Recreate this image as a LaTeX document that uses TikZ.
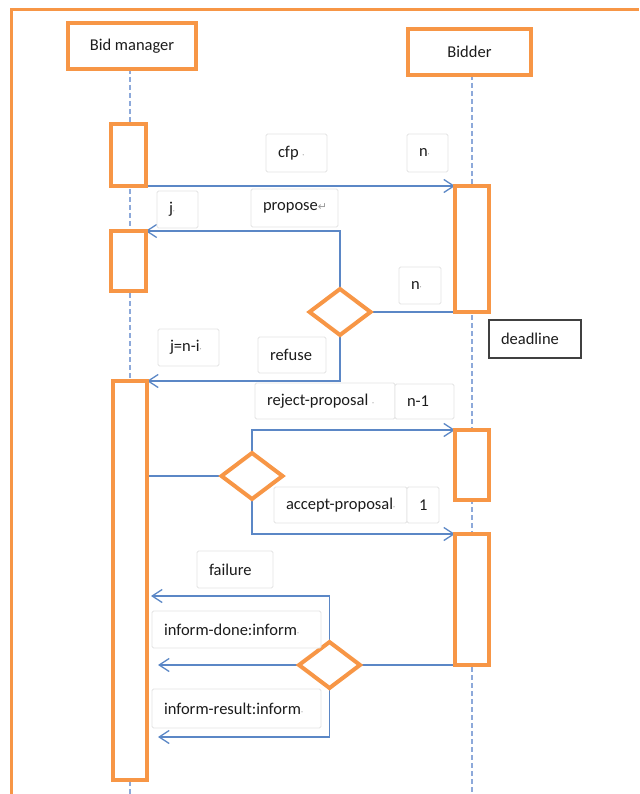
\documentclass[tikz,border=0pt]{standalone}
\usepackage{fontspec}
\setmainfont{Carlito}
\newfontfamily\arrowfont{DejaVu Sans}
\usetikzlibrary{arrows.meta,shapes.geometric,backgrounds}

\definecolor{boxorange}{HTML}{F79646}
\definecolor{msgblue}{HTML}{5B87C6}
\definecolor{lifeblue}{HTML}{8DA9DA}
\definecolor{tagedge}{HTML}{E3E3E3}
\definecolor{markgrey}{HTML}{999999}
\definecolor{inkdark}{HTML}{1C1C1C}

% small grey editing marks that trail some labels
\newcommand{\pmark}{{\color{markgrey}\fontsize{8}{8}\selectfont\textperiodcentered}}
\newcommand{\retmark}{{\color{markgrey}\arrowfont\fontsize{11}{11}\selectfont\char"21B5}}
% fixed-width, left-aligned label content
\newcommand{\tagtxt}[2]{\makebox[#1pt][l]{#2}}

\begin{document}
\begin{tikzpicture}[x=1pt,y=-1pt,
  txt/.style={font=\fontsize{16.5}{19}\selectfont, text=inkdark},
  lifeobj/.style={txt, draw=boxorange, line width=4pt, fill=white, inner sep=0pt, outer sep=0pt},
  act/.style={draw=boxorange, line width=4pt, fill=white, inner sep=0pt, outer sep=0pt},
  choice/.style={diamond, draw=boxorange, line width=4pt, fill=white, inner sep=0pt, outer sep=0pt},
  tag/.style={txt, anchor=north west, draw=tagedge, line width=0.8pt, fill=white, rounded corners=1.5pt, inner xsep=12pt, inner ysep=0pt, outer sep=0pt},
  note/.style={tag, draw=black!75, line width=1.5pt, rounded corners=0pt},
  msg/.style={draw=msgblue, line width=1.3pt},
  call/.style={msg, -{Straight Barb[length=10pt,width=13pt]}},
  life/.style={draw=lifeblue, line width=1.3pt, dash pattern=on 5pt off 3pt},
  frame/.style={draw=boxorange, line width=3pt}]

\useasboundingbox (0,0) rectangle (639,794);

% outer frame
\draw[frame] (11,794) -- (11,10) -- (639,10);

% participants
\node[lifeobj, minimum width=128pt, minimum height=46pt] (bm) at (132,46) {Bid manager};
\node[lifeobj, minimum width=123pt, minimum height=46pt] (bd) at (469.5,52) {Bidder};

% activation bars
\node[act, minimum width=35pt, minimum height=62pt] (a1) at (128,155) {};
\node[act, minimum width=35pt, minimum height=60pt] (a2) at (128,261) {};
\node[act, minimum width=34pt, minimum height=399pt] (a3) at (130,580.5) {};
\node[act, minimum width=34pt, minimum height=126pt] (b1) at (472,249) {};
\node[act, minimum width=34pt, minimum height=70pt] (b2) at (472,465) {};
\node[act, minimum width=34pt, minimum height=131pt] (b3) at (472,599.5) {};

% decisions
\node[choice, minimum width=61pt, minimum height=46pt] (d1) at (340,312) {};
\node[choice, minimum width=61pt, minimum height=46pt] (d2) at (252,476) {};
\node[choice, minimum width=61pt, minimum height=46pt] (d3) at (329.5,665) {};

% free ends of the replies
\coordinate (failend) at (151,596);
\coordinate (doneend) at (158,665);
\coordinate (resend) at (158,737);

\begin{scope}[on background layer]
  % lifelines
  \draw[life] (bm.south -| a3.center) -- (a3.center |- 0,794);
  \draw[life] (bd.south -| b1.center) -- (b1.center |- 0,794);
  % messages
  \draw[call] (a1.south east) -- (b1.north west);
  \draw[call] (d1.north) |- (a2.north east);
  \draw[msg] (d1.east) -- (b1.south west);
  \draw[call] (d1.south) |- (a3.north east);
  \draw[msg] (a3.east |- d2.west) -- (d2.west);
  \draw[call] (d2.north) |- (b2.north west);
  \draw[call] (d2.south) |- (b3.north west);
  \draw[msg] (b3.south west) -- (d3.east);
  \draw[call] (d3.north) |- (failend);
  \draw[call] (d3.west) -- (doneend);
  \draw[call] (d3.south) |- (resend);
\end{scope}

% labels
\node[tag, minimum height=38pt] (cfp) at (266,134) {\tagtxt{37}{cfp~\pmark}};
\node[tag, minimum height=38pt] (ncfp) at (407,134) {\tagtxt{17}{n\pmark}};
\node[tag, minimum height=37pt] (jprop) at (157,191) {\tagtxt{17}{j\pmark}};
\node[tag, minimum height=38pt] (prop) at (251,189) {\tagtxt{63}{propose\retmark}};
\node[tag, minimum height=37pt] (nprop) at (399,267) {\tagtxt{18}{n\pmark}};
\node[tag, minimum height=37pt] (jref) at (158,329) {\tagtxt{37}{j=n-i\pmark}};
\node[tag, minimum height=36pt] (ref) at (258,337) {\tagtxt{44}{refuse}};
\node[note, minimum height=38pt] (dl) at (489,320) {\tagtxt{68}{deadline}};
\node[tag, minimum height=36pt] (rej) at (255,383) {\tagtxt{116}{reject-proposal~\pmark}};
\node[tag, minimum height=35pt] (nrej) at (395,384) {\tagtxt{35}{n-1}};
\node[tag, minimum height=36pt] (acc) at (274,487) {\tagtxt{109}{accept-proposal\pmark}};
\node[tag, minimum height=36pt] (nacc) at (407,487) {\tagtxt{8}{1}};
\node[tag, minimum height=37pt] (fail) at (197,551) {\tagtxt{52}{failure}};
\node[tag, minimum height=37pt] (done) at (152,611) {\tagtxt{145}{inform-done:inform\pmark}};
\node[tag, minimum height=39pt] (res) at (152,689) {\tagtxt{145}{inform-result:inform\pmark}};

\end{tikzpicture}
\end{document}
